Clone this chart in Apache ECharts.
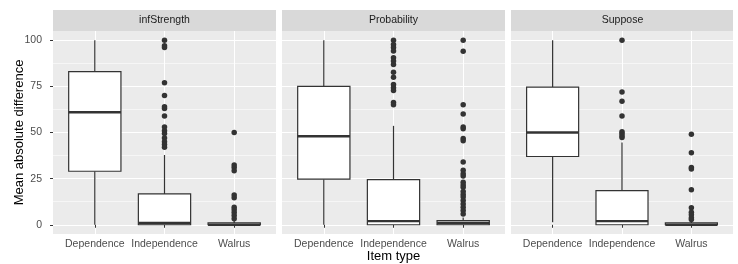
<!DOCTYPE html>
<html>
<head>
<meta charset="utf-8">
<script src="https://cdn.jsdelivr.net/npm/echarts@6/dist/echarts.min.js"></script>
<style>
html, body { margin: 0; padding: 0; background: #fff; }
#main { width: 738px; height: 264px; }
</style>
</head>
<body>
<div id="main"></div>
<script>
// facets and categories
const facets = ['infStrength', 'Probability', 'Suppose'];
const categories = ['Dependence', 'Independence', 'Walrus'];
const yTicks = [0, 25, 50, 75, 100];
const yMinor = [12.5, 37.5, 62.5, 87.5];

// box stats per facet: [min, q1, median, q3, max] for each category
const boxInfStrength = [[0, 29, 61, 83, 100], [0, 0, 1, 16.7, 37.8], [0, 0, 0, 1, 2]];
const boxProbability = [[0, 24.7, 48, 75, 100], [0, 0, 2, 24.5, 53.6], [0, 0, 1, 2.3, 4]];
const boxSuppose = [[1.4, 37, 50, 74.6, 100], [0, 0, 2, 18.5, 44.6], [0, 0, 0, 1, 2]];

// outliers per facet, per category
const outInfStrength = [
  [],
  [100, 97, 96, 77, 70, 64, 63, 59, 53, 51, 49.5, 47, 45, 43.5, 42],
  [50, 32.4, 31, 29.3, 16.2, 14.6, 9.5, 8.1, 6.7, 5, 3.2]
];
const outProbability = [
  [],
  [100, 97.7, 96, 94.2, 90.5, 88.7, 86.9, 82.7, 80, 76, 74.3, 72.8, 66.2, 65],
  [100, 94, 65, 60, 53, 52, 46.8, 45.5, 34, 29.5, 27.7, 26.4, 23, 21.6, 20.3, 18, 16.4, 15, 13.1, 11.3, 9.5, 7.7, 5.9]
];
const outSuppose = [
  [],
  [100, 72, 67, 59, 50.4, 49.5, 48.2, 47.3],
  [49, 39, 31.1, 30.2, 19, 9.2, 6.8, 5.4, 3.8, 2.9]
];

const boxes = [boxInfStrength, boxProbability, boxSuppose];
const outliers = [outInfStrength, outProbability, outSuppose];

const font = 'Liberation Sans, Arial, sans-serif';
const panelLeft = [53, 282, 511];
const panelWidth = 223;
const panelTop = 31;
const panelHeight = 203;

function renderBox(params, api) {
  const x = api.value(0);
  const lo = api.coord([x, api.value(1)]);
  const q1 = api.coord([x, api.value(2)]);
  const md = api.coord([x, api.value(3)]);
  const q3 = api.coord([x, api.value(4)]);
  const hi = api.coord([x, api.value(5)]);
  const half = api.size([0.75, 0])[0] / 2;
  const ln = { stroke: '#333333', lineWidth: 1.2 };
  return {
    type: 'group',
    children: [
      { type: 'line', shape: { x1: lo[0], y1: lo[1], x2: q1[0], y2: q1[1] }, style: ln },
      { type: 'line', shape: { x1: q3[0], y1: q3[1], x2: hi[0], y2: hi[1] }, style: ln },
      { type: 'rect', shape: { x: q1[0] - half, y: q3[1], width: half * 2, height: q1[1] - q3[1] },
        style: { fill: '#ffffff', stroke: '#333333', lineWidth: 1.2 } },
      { type: 'line', shape: { x1: md[0] - half, y1: md[1], x2: md[0] + half, y2: md[1] },
        style: { stroke: '#333333', lineWidth: 2.4 } }
    ]
  };
}

const grids = [], xAxes = [], yAxes = [], series = [], graphics = [];
facets.forEach((f, i) => {
  grids.push({
    left: panelLeft[i], top: panelTop, width: i === 2 ? panelWidth - 1 : panelWidth, height: panelHeight,
    show: true, backgroundColor: '#EBEBEB', borderWidth: 0, containLabel: false, outerBoundsMode: 'none'
  });
  xAxes.push({
    type: 'value', gridIndex: i, min: 0.4, max: 3.6,
    name: i === 1 ? 'Item type' : '', nameLocation: 'middle', nameGap: 16, nameMoveOverlap: false,
    nameTextStyle: { fontFamily: font, fontSize: 13, color: '#000' },
    axisLine: { show: false },
    axisTick: { show: true, length: 3, lineStyle: { color: '#333333', width: 1 }, customValues: [1, 2, 3] },
    axisLabel: { customValues: [1, 2, 3], formatter: v => categories[Math.round(v) - 1],
      fontFamily: font, fontSize: 10.5, color: '#4D4D4D', margin: 5 },
    splitLine: { show: true, lineStyle: { color: '#ffffff', width: 1.1 } },
    minorSplitLine: { show: false }
  });
  yAxes.push({
    type: 'value', gridIndex: i, min: -5, max: 105,
    name: i === 0 ? 'Mean absolute difference' : '', nameLocation: 'middle', nameGap: 27, nameMoveOverlap: false,
    nameTextStyle: { fontFamily: font, fontSize: 13, color: '#000' },
    axisLine: { show: false },
    axisTick: { show: i === 0, length: 3, lineStyle: { color: '#333333', width: 1 }, customValues: yTicks },
    axisLabel: { show: i === 0, customValues: yTicks, fontFamily: font, fontSize: 10.5, color: '#4D4D4D', margin: 11 },
    splitLine: { show: true, lineStyle: { color: '#ffffff', width: 1.1 } }
  });
  graphics.push({
    type: 'rect', left: panelLeft[i], top: 10, z: 0,
    shape: { width: i === 2 ? panelWidth - 1 : panelWidth, height: 21 },
    style: { fill: '#D9D9D9' }
  });
  graphics.push({
    type: 'text', x: panelLeft[i] + panelWidth / 2, y: 20.5, z: 1,
    style: { text: f, fontFamily: font, fontSize: 10.5, fill: '#1A1A1A', align: 'center', verticalAlign: 'middle' }
  });
  series.push({
    type: 'custom', xAxisIndex: i, yAxisIndex: i, renderItem: renderBox, z: 3,
    encode: { x: 0, y: [1, 2, 3, 4, 5] },
    data: boxes[i].map((b, j) => [j + 1].concat(b)),
    silent: true
  });
  const pts = [];
  outliers[i].forEach((arr, j) => arr.forEach(v => pts.push([j + 1, v])));
  series.push({
    type: 'scatter', xAxisIndex: i, yAxisIndex: i, z: 4, symbolSize: 5.5,
    itemStyle: { color: '#333333', opacity: 1 }, data: pts, silent: true
  });
});
// minor y grid lines
facets.forEach((f, i) => {
  yAxes.push({
    type: 'value', gridIndex: i, min: -5, max: 105, position: 'left',
    axisLine: { show: false },
    axisTick: { show: false, customValues: yMinor },
    axisLabel: { show: false, customValues: yMinor },
    splitLine: { show: true, lineStyle: { color: '#ffffff', width: 0.55 } }
  });
});

const chart = echarts.init(document.getElementById('main'), null, { renderer: 'canvas' });
chart.setOption({
  animation: false,
  backgroundColor: '#ffffff',
  grid: grids,
  xAxis: xAxes,
  yAxis: yAxes,
  graphic: graphics,
  series: series
});
</script>
</body>
</html>
